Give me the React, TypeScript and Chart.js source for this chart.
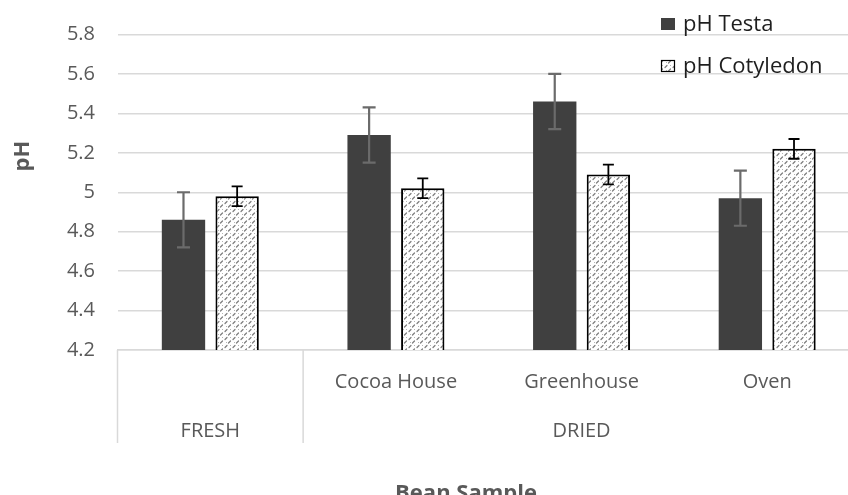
import React, { useEffect, useRef } from 'react';
import { Chart, registerables } from 'chart.js';

Chart.register(...registerables);

// ---- data ----
const categories = ['', 'Cocoa House', 'Greenhouse', 'Oven'];
const groupLabels = ['FRESH', 'DRIED'];
const groupStarts = [0, 1];
const groupEnds = [0, 3];
const seriesNames = ['pH Testa', 'pH Cotyledon'];
const testaValues = [4.86, 5.29, 5.46, 4.97];
const testaErrors = [0.14, 0.14, 0.14, 0.14];
const cotyledonValues = [4.98, 5.02, 5.09, 5.22];
const cotyledonErrors = [0.05, 0.05, 0.05, 0.05];
const yTickValues = [4.2, 4.4, 4.6, 4.8, 5.0, 5.2, 5.4, 5.6, 5.8];
const xTitle = 'Bean Sample';
const yTitle = 'pH';

const FONT = "'Open Sans', 'DejaVu Sans', sans-serif";
const AXIS_GREY = '#595959';
const GRID = '#d9d9d9';
const DARK = '#404040';

function makePattern(): CanvasPattern | string {
  const c = document.createElement('canvas');
  c.width = 8;
  c.height = 8;
  const g = c.getContext('2d');
  if (!g) return '#eeeeee';
  g.fillStyle = '#ffffff';
  g.fillRect(0, 0, 8, 8);
  g.strokeStyle = '#7c7c7c';
  g.lineWidth = 1.2;
  g.lineCap = 'round';
  g.beginPath();
  g.moveTo(1, 3.5);
  g.lineTo(3, 1.5);
  g.moveTo(4.5, 7);
  g.lineTo(6.5, 5);
  g.stroke();
  g.fillStyle = '#b5b5b5';
  g.fillRect(6, 1, 1, 1);
  g.fillRect(2, 6, 1, 1);
  return g.createPattern(c, 'repeat') || '#eeeeee';
}

const errorsBySeries = [testaErrors, cotyledonErrors];
const errorStyles = [
  { color: '#6b6b6b', width: 2.2, cap: 6.5 },
  { color: '#000000', width: 1.8, cap: 5.5 },
];

const errorBarPlugin = {
  id: 'errorBars',
  afterDatasetsDraw(chart: any) {
    const ctx = chart.ctx;
    const y = chart.scales.y;
    chart.data.datasets.forEach((ds: any, di: number) => {
      const meta = chart.getDatasetMeta(di);
      const st = errorStyles[di];
      ctx.save();
      ctx.strokeStyle = st.color;
      ctx.lineWidth = st.width;
      meta.data.forEach((bar: any, i: number) => {
        const v = ds.data[i];
        const e = errorsBySeries[di][i];
        const top = y.getPixelForValue(v + e);
        const bot = y.getPixelForValue(v - e);
        ctx.beginPath();
        ctx.moveTo(bar.x, top);
        ctx.lineTo(bar.x, bot);
        ctx.moveTo(bar.x - st.cap, top);
        ctx.lineTo(bar.x + st.cap, top);
        ctx.moveTo(bar.x - st.cap, bot);
        ctx.lineTo(bar.x + st.cap, bot);
        ctx.stroke();
      });
      ctx.restore();
    });
  },
};

const axisLabelsPlugin = {
  id: 'hierLabels',
  afterDraw(chart: any) {
    const ctx = chart.ctx;
    const x = chart.scales.x;
    const area = chart.chartArea;
    const n = categories.length;
    const cw = (x.right - x.left) / n;
    ctx.save();
    // separators
    ctx.strokeStyle = GRID;
    ctx.lineWidth = 1.5;
    const bounds = new Set<number>();
    groupStarts.forEach((s, gi) => {
      bounds.add(x.getPixelForValue(s) - cw / 2);
      bounds.add(x.getPixelForValue(groupEnds[gi]) + cw / 2);
    });
    bounds.forEach((bx) => {
      ctx.beginPath();
      ctx.moveTo(bx, area.bottom);
      ctx.lineTo(bx, area.bottom + 93);
      ctx.stroke();
    });
    // sub labels
    ctx.fillStyle = AXIS_GREY;
    ctx.font = `20px ${FONT}`;
    ctx.textAlign = 'center';
    ctx.textBaseline = 'alphabetic';
    categories.forEach((c, i) => {
      if (c) ctx.fillText(c, x.getPixelForValue(i), area.bottom + 38);
    });
    // group labels
    groupLabels.forEach((g, gi) => {
      const cx = (x.getPixelForValue(groupStarts[gi]) + x.getPixelForValue(groupEnds[gi])) / 2;
      ctx.fillText(g, cx, area.bottom + 86.5);
    });
    // axis titles
    ctx.font = `bold 22px ${FONT}`;
    ctx.fillText(xTitle, 466, 500);
    ctx.save();
    ctx.translate(29, 156);
    ctx.rotate(-Math.PI / 2);
    ctx.fillText(yTitle, 0, 0);
    ctx.restore();
    // legend
    chart.data.datasets.forEach((ds: any, di: number) => {
      const sy = 18 + di * 42;
      ctx.fillStyle = ds.backgroundColor;
      ctx.fillRect(661, sy, 14, 12);
      if (ds.borderWidth) {
        ctx.strokeStyle = '#000';
        ctx.lineWidth = 1.2;
        ctx.strokeRect(661.5, sy + 0.5, 13, 11);
      }
      ctx.fillStyle = '#1e1e1e';
      ctx.font = `22px ${FONT}`;
      ctx.textAlign = 'left';
      ctx.fillText(ds.label, 683, sy + 12.5);
    });
    ctx.restore();
  },
};

export default function App() {
  const ref = useRef<HTMLCanvasElement | null>(null);
  useEffect(() => {
    if (!ref.current) return;
    const pattern = makePattern();
    const chart = new Chart(ref.current, {
      type: 'bar',
      data: {
        labels: categories,
        datasets: [
          {
            label: seriesNames[0],
            data: testaValues,
            backgroundColor: DARK,
            borderWidth: 0,
            categoryPercentage: 0.578,
            barPercentage: 0.808,
          },
          {
            label: seriesNames[1],
            data: cotyledonValues,
            backgroundColor: pattern as any,
            borderColor: '#000000',
            borderWidth: 2,
            categoryPercentage: 0.578,
            barPercentage: 0.808,
          },
        ],
      },
      options: {
        responsive: false,
        animation: false,
        devicePixelRatio: 1,
        layout: { padding: { top: 25, right: 0, bottom: 0, left: 0 } },
        plugins: { legend: { display: false }, tooltip: { enabled: false } },
        scales: {
          x: {
            grid: { display: false },
            border: { display: true, color: GRID, width: 1.5 },
            ticks: { display: false },
            afterFit(scale: any) {
              scale.height = 145;
            },
          },
          y: {
            min: 4.2,
            max: 5.8,
            afterBuildTicks(scale: any) {
              scale.ticks = yTickValues.map((v) => ({ value: v }));
            },
            grid: { color: GRID, lineWidth: 1.5, drawTicks: false },
            border: { display: false },
            ticks: {
              padding: 22.5,
              color: AXIS_GREY,
              font: { family: FONT, size: 20 },
              callback: (v: any) => String(+Number(v).toFixed(1)),
            },
            afterFit(scale: any) {
              scale.width = 117.5;
            },
          },
        },
      },
      plugins: [errorBarPlugin, axisLabelsPlugin],
    });
    return () => chart.destroy();
  }, []);
  return (
    <div style={{ position: 'fixed', left: 0, top: 0, width: 848, height: 495, overflow: 'hidden', background: '#fff' }}>
      <canvas ref={ref} width={860} height={495} style={{ width: 860, height: 495, display: 'block' }} />
    </div>
  );
}
